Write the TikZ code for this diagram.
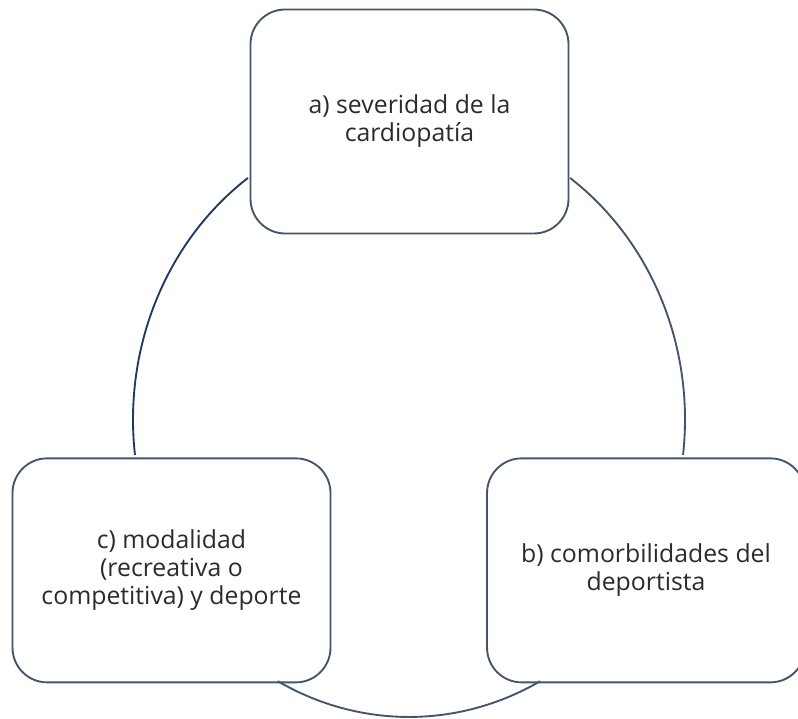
\documentclass[tikz,border=0pt]{standalone}
\usepackage{fontspec}
\setmainfont{Open Sans}
\usepackage{xcolor}
\usepackage{tikz}
\usetikzlibrary{positioning}

\definecolor{boxline}{HTML}{44546A}
\definecolor{navyline}{HTML}{1F3864}
\definecolor{txt}{HTML}{2B2B2B}

\begin{document}
\begin{tikzpicture}[x=0.75pt, y=0.75pt]
    \tikzstyle{factor} = [rectangle, draw=boxline, line width=1.4pt, rounded corners=26pt, fill=white, minimum width=238.5pt, minimum height=168pt, align=center, text=txt, font=\fontsize{18.6}{21}\selectfont]
    \tikzstyle{arcline} = [line width=1.4pt, draw=boxline]

    \clip (0,0) rectangle (798,718);

    % Factores
    \node [factor] (sev) at (409.5,596.5) {a) severidad de la\\ cardiopatía};
    \node [factor, below=167.25pt of sev, xshift=-178.5pt] (mod) {c) modalidad\\ (recreativa o\\ competitiva) y deporte};
    \node [factor, below=167.25pt of sev, xshift=177.4pt] (com) {b) comorbilidades del\\ deportista};

    % Ciclo
    \coordinate (hub) at (409,298.5);
    \draw[arcline, draw=navyline] ([shift={(125.7:207pt and 223.1pt)}]hub) arc[start angle=125.7, end angle=186.85, x radius=207pt, y radius=223.1pt];
    \draw[arcline] ([shift={(54.3:207pt and 223.1pt)}]hub) arc[start angle=54.3, end angle=-6.85, x radius=207pt, y radius=223.1pt];
    \draw[arcline] ([shift={(241.6:207pt and 223.1pt)}]hub) arc[start angle=241.6, end angle=298.4, x radius=207pt, y radius=223.1pt];
\end{tikzpicture}
\end{document}
